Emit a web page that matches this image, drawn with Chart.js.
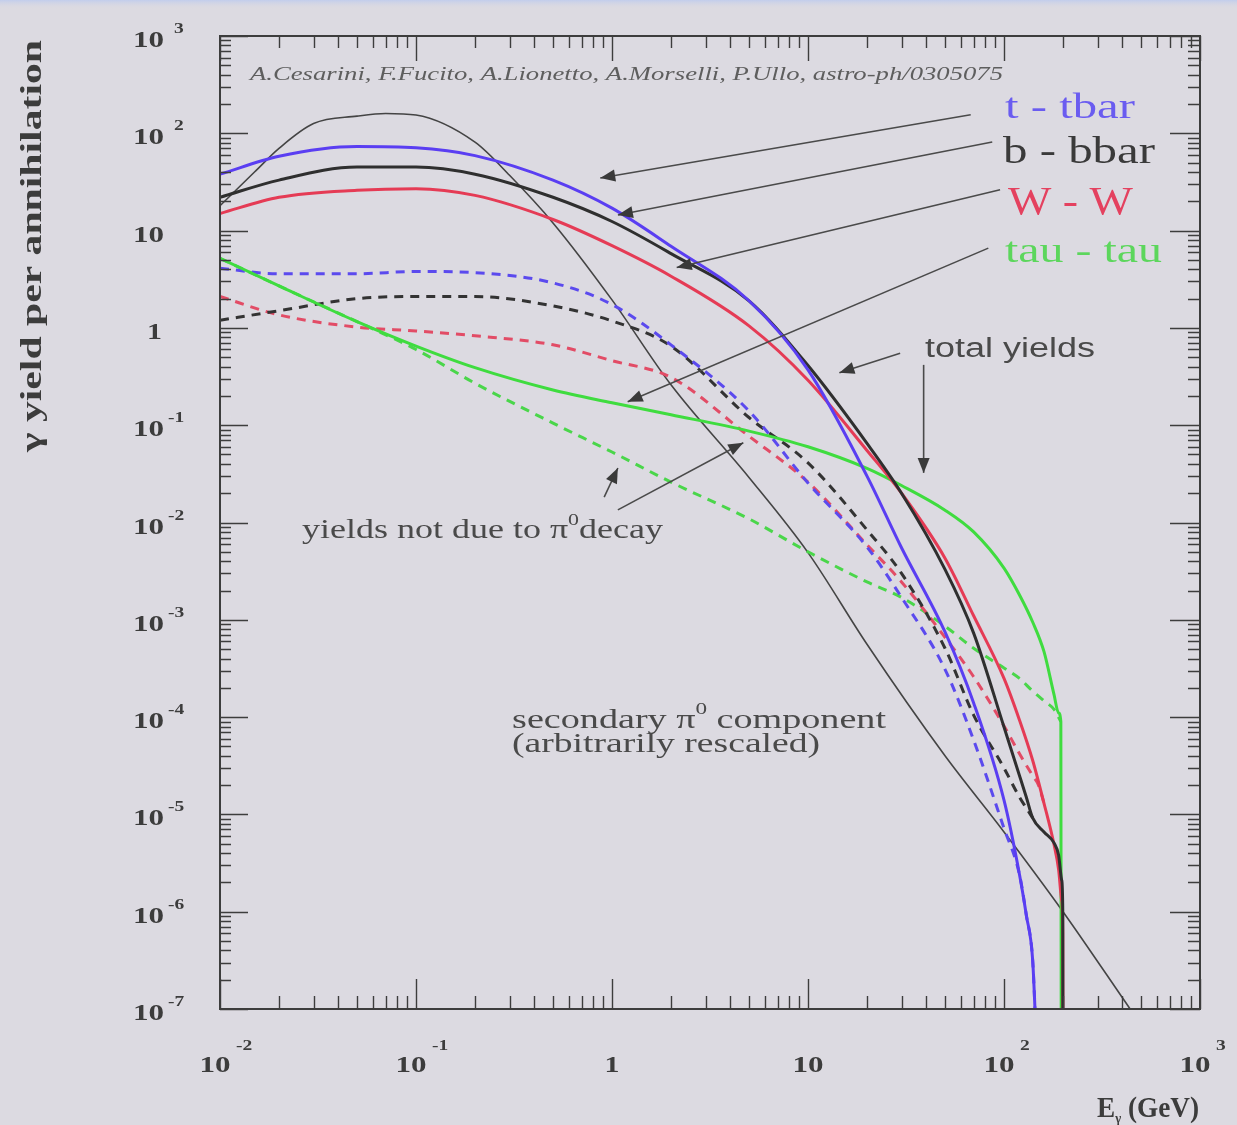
<!DOCTYPE html>
<html>
<head>
<meta charset="utf-8">
<title>Gamma yields per annihilation</title>
<script src="https://cdn.jsdelivr.net/npm/chart.js@4.4.1/dist/chart.umd.min.js"></script>
<style>
  html, body { margin: 0; padding: 0; background: #dcdae1; }
  #wrap { width: 1237px; height: 1125px; }
</style>
</head>
<body>
<div id="wrap"><canvas id="chart" width="1237" height="1125"></canvas></div>
<script>
// photon energy (GeV) vs gamma yield per annihilation, one pair of arrays per curve
const ttTotalE = [0.01, 0.02, 0.05, 0.1, 0.2, 0.5, 1, 2, 5, 10, 20, 30, 50, 70, 100, 120, 130, 140, 146];
const ttTotalY = [38, 58, 73, 71, 59, 33, 17, 6.9, 1.9, 0.37, 0.03, 0.0055, 7.5e-4, 1.4e-4, 1.4e-5, 2.4e-6, 9.2e-7, 3.2e-7, 5e-8];

const bbTotalE = [0.01, 0.02, 0.05, 0.1, 0.2, 0.5, 1, 2, 5, 10, 20, 30, 50, 70, 100, 120, 130, 140, 160, 180, 190, 197, 199.5, 200];
const bbTotalY = [22, 33, 45, 45, 38, 22, 12.4, 5.8, 1.9, 0.41, 0.065, 0.020, 3.3e-3, 7.3e-4, 7.9e-5, 2.5e-5, 1.5e-5, 9.2e-6, 6.6e-6, 5.1e-6, 3.8e-6, 2.1e-6, 1e-6, 1e-8];

const wwTotalE = [0.01, 0.02, 0.05, 0.1, 0.2, 0.5, 1, 2, 5, 10, 20, 30, 50, 70, 100, 120, 140, 160, 180, 190, 197, 199.5, 200];
const wwTotalY = [15, 22, 26, 27, 23, 13, 7.0, 3.4, 1.05, 0.29, 0.055, 0.020, 4.3e-3, 1.1e-3, 2.5e-4, 9.3e-5, 3.6e-5, 1.3e-5, 4.9e-6, 2.7e-6, 1.3e-6, 6e-7, 1e-8];

const tauTotalE = [0.01, 0.02, 0.05, 0.1, 0.2, 0.5, 1, 2, 5, 10, 20, 30, 50, 70, 100, 120, 140, 160, 180, 190, 195, 196];
const tauTotalY = [5.2, 2.7, 1.16, 0.65, 0.39, 0.23, 0.17, 0.128, 0.087, 0.060, 0.036, 0.024, 0.0134, 0.008, 0.0034, 1.8e-3, 9.5e-4, 4.7e-4, 1.7e-4, 1.1e-4, 9e-5, 1e-8];

// yields not due to pi0 decay
const ttNonPi0E = [0.01, 0.02, 0.05, 0.1, 0.2, 0.5, 1, 2, 5, 10, 20, 30, 50, 70, 100, 120, 130, 140, 146];
const ttNonPi0Y = [4.1, 3.6, 3.6, 3.8, 3.7, 2.9, 1.74, 0.67, 0.14, 0.0255, 5.6e-3, 1.7e-3, 3.1e-4, 5.8e-5, 7.2e-6, 2.4e-6, 9.2e-7, 3.2e-7, 5e-8];

const bbNonPi0E = [0.01, 0.02, 0.05, 0.1, 0.2, 0.5, 1, 2, 5, 10, 20, 30, 50, 70, 100, 120, 130, 140];
const bbNonPi0Y = [1.2, 1.5, 2.0, 2.1, 2.1, 1.68, 1.18, 0.65, 0.12, 0.041, 8.4e-3, 3.0e-3, 5.1e-4, 1.05e-4, 3.0e-5, 1.5e-5, 1.16e-5, 9.2e-6];

const wwNonPi0E = [0.01, 0.02, 0.05, 0.1, 0.2, 0.5, 1, 2, 5, 10, 20, 30, 50, 70, 100, 120, 140, 150, 160];
const wwNonPi0Y = [2.1, 1.36, 1.02, 0.93, 0.83, 0.67, 0.46, 0.31, 0.077, 0.026, 5.9e-3, 2.45e-3, 6.6e-4, 2.6e-4, 8.1e-5, 4.2e-5, 2.5e-5, 2.0e-5, 1.3e-5];

const tauNonPi0E = [0.01, 0.02, 0.05, 0.1, 0.2, 0.5, 1, 2, 5, 10, 20, 30, 50, 70, 100, 120, 140, 160, 180, 195];
const tauNonPi0Y = [5.2, 2.7, 1.16, 0.6, 0.27, 0.105, 0.053, 0.026, 0.0109, 5.0e-3, 2.45e-3, 1.7e-3, 8.6e-4, 5.1e-4, 3.2e-4, 2.5e-4, 1.85e-4, 1.47e-4, 1.2e-4, 9e-5];

// secondary pi0 component (arbitrarily rescaled)
const pi0E = [0.01, 0.015, 0.02, 0.03, 0.05, 0.07, 0.1, 0.2, 0.3, 0.5, 1, 2, 5, 10, 20, 50, 100, 200, 440];
const pi0Y = [18, 40, 70, 126, 150, 160, 154, 81, 37, 12, 1.94, 0.26, 0.029, 4.9e-3, 5.6e-4, 4.0e-5, 6.6e-6, 1.0e-6, 1.0e-7];

// decade exponents for the axis labels
const xDecades = [-2, -1, 0, 1, 2, 3];
const yDecades = [3, 2, 1, 0, -1, -2, -3, -4, -5, -6, -7];

const channelLabels = ['t - tbar', 'b - bbar', 'W - W', 'tau - tau'];
const citation = 'A.Cesarini, F.Fucito, A.Lionetto, A.Morselli, P.Ullo, astro-ph/0305075';

function pts(es, ys) {
  return es.map((e, i) => ({ x: e, y: ys[i] }));
}

const BLUE = '#5a3ef2', BLACK = '#2f2f2f', RED = '#e53b55', GREEN = '#3fdc3f';

function solid(es, ys, color) {
  return { data: pts(es, ys), borderColor: color, borderWidth: 3 };
}
function dashed(es, ys, color) {
  return { data: pts(es, ys), borderColor: color, borderWidth: 3, borderDash: [9, 7] };
}

const datasets = [
  solid(ttTotalE, ttTotalY, BLUE),
  solid(bbTotalE, bbTotalY, BLACK),
  solid(wwTotalE, wwTotalY, RED),
  solid(tauTotalE, tauTotalY, GREEN),
  dashed(ttNonPi0E, ttNonPi0Y, '#5b4aee'),
  dashed(bbNonPi0E, bbNonPi0Y, '#333333'),
  dashed(wwNonPi0E, wwNonPi0Y, '#e24c66'),
  dashed(tauNonPi0E, tauNonPi0Y, '#4ad64a'),
  { data: pts(pi0E, pi0Y), borderColor: '#444444', borderWidth: 1.6 }
];

// annotation geometry, in log10(E), log10(yield)
const arrowPaths = [
  [[1.83, 2.19], [-0.06, 1.54]],
  [[1.94, 1.91], [0.03, 1.16]],
  [[1.98, 1.42], [0.33, 0.62]],
  [[1.92, 0.82], [0.08, -0.76]],
  [[1.47, -0.26], [1.16, -0.46]],
  [[1.59, -0.38], [1.59, -1.49]],
  [[-0.04, -1.74], [0.03, -1.44]],
  [[0.03, -1.87], [0.67, -1.18]]
];

function stretched(c, str, x, y, sx, align) {
  const w = c.measureText(str).width * sx;
  let x0 = x;
  if (align === 'center') x0 = x - w / 2;
  else if (align === 'right') x0 = x - w;
  c.save();
  c.translate(x0, y);
  c.scale(sx, 1);
  c.textAlign = 'left';
  c.fillText(str, 0, 0);
  c.restore();
  return w;
}

// draws text pieces (with super/subscripts) squeezed or widened to a given width
function richFit(c, parts, x, y, width) {
  let total = 0;
  parts.forEach(p => { c.font = p.font; p.w = c.measureText(p.t).width; total += p.w; });
  const sx = width / total;
  c.save();
  c.translate(x, y);
  c.scale(sx, 1);
  c.textAlign = 'left';
  let cx = 0;
  parts.forEach(p => { c.font = p.font; c.fillText(p.t, cx, -(p.dy || 0)); cx += p.w; });
  c.restore();
}

function arrow(c, x1, y1, x2, y2) {
  c.beginPath();
  c.moveTo(x1, y1);
  c.lineTo(x2, y2);
  c.stroke();
  const a = Math.atan2(y2 - y1, x2 - x1), L = 15, W = 6;
  c.beginPath();
  c.moveTo(x2, y2);
  c.lineTo(x2 - L * Math.cos(a) + W * Math.sin(a), y2 - L * Math.sin(a) - W * Math.cos(a));
  c.lineTo(x2 - L * Math.cos(a) - W * Math.sin(a), y2 - L * Math.sin(a) + W * Math.cos(a));
  c.closePath();
  c.fill();
}

const SERIF = '"Liberation Serif", Times, "Times New Roman", serif';
const SANS = '"Liberation Sans", Arial, sans-serif';

const decor = {
  id: 'decor',
  beforeDraw(chart) {
    const c = chart.ctx;
    c.save();
    c.fillStyle = '#dcdae1';
    c.fillRect(0, 0, chart.width, chart.height);
    const g = c.createLinearGradient(0, 0, 0, 9);
    g.addColorStop(0, '#c2cdec');
    g.addColorStop(1, 'rgba(220,218,225,0)');
    c.fillStyle = g;
    c.fillRect(0, 0, chart.width, 9);
    c.restore();
  },
  afterDraw(chart) {
    const c = chart.ctx;
    const xs = chart.scales.x, ys = chart.scales.y;
    const { left, right, top, bottom } = chart.chartArea;
    const at = (lx, ly) => [xs.getPixelForValue(Math.pow(10, lx)), ys.getPixelForValue(Math.pow(10, ly))];
    c.save();

    // frame with inward ticks on all four sides
    c.strokeStyle = '#3d3d3d';
    c.lineWidth = 2;
    c.strokeRect(left, top, right - left, bottom - top);
    c.lineWidth = 1.4;
    c.beginPath();
    for (let d = -2; d <= 3; d++) {
      for (let k = 1; k < 10; k++) {
        if (d === 3 && k > 1) break;
        const px = Math.round(xs.getPixelForValue(k * Math.pow(10, d))) + 0.5;
        const major = k === 1;
        c.moveTo(px, bottom); c.lineTo(px, bottom - (major ? 30 : 13));
        c.moveTo(px, top); c.lineTo(px, top + (major ? 25 : 12));
      }
    }
    for (let d = -7; d <= 3; d++) {
      for (let k = 1; k < 10; k++) {
        if (d === 3 && k > 1) break;
        const py = Math.round(ys.getPixelForValue(k * Math.pow(10, d))) + 0.5;
        const major = k === 1;
        c.moveTo(left, py); c.lineTo(left + (major ? 28 : 11), py);
        c.moveTo(right, py); c.lineTo(right - (major ? 30 : 12), py);
      }
    }
    c.stroke();

    // decade labels
    c.fillStyle = '#3c3c3c';
    const baseFont = 'bold 23px ' + SERIF, expFont = 'bold 15px ' + SERIF;
    xDecades.forEach(e => {
      const px = xs.getPixelForValue(Math.pow(10, e));
      c.font = baseFont;
      if (e === 0) stretched(c, '1', px, 1072, 1.3, 'center');
      else if (e === 1) stretched(c, '10', px, 1072, 1.35, 'center');
      else {
        stretched(c, '10', px - 5, 1072, 1.35, 'center');
        c.font = expFont;
        stretched(c, String(e), px + 16, 1050, 1.3, 'left');
      }
    });
    yDecades.forEach(e => {
      const py = ys.getPixelForValue(Math.pow(10, e));
      c.font = baseFont;
      if (e === 0) stretched(c, '1', 162, py + 11, 1.3, 'right');
      else if (e === 1) stretched(c, '10', 164, py + 11, 1.35, 'right');
      else {
        stretched(c, '10', 164, py + 11, 1.35, 'right');
        c.font = expFont;
        stretched(c, String(e), e > 0 ? 174 : 168, py - 3, 1.3, 'left');
      }
    });

    // axis titles
    c.save();
    c.translate(41, 452);
    c.rotate(-Math.PI / 2);
    richFit(c, [{ t: '\u03b3 yield per annihilation', font: 'bold 29px ' + SERIF }], 0, 0, 412);
    c.restore();
    richFit(c, [
      { t: 'E', font: 'bold 30px ' + SERIF },
      { t: '\u03b3', font: 'bold 14px ' + SERIF, dy: -6 },
      { t: ' (GeV)', font: 'bold 30px ' + SERIF }
    ], 1097, 1117, 102);

    // citation line
    c.fillStyle = '#5e5e5e';
    let p = at(-1.847, 2.548);
    richFit(c, [{ t: citation, font: 'italic 19px ' + SERIF }], p[0], p[1], 753);

    // arrows
    c.strokeStyle = '#4a4a4a';
    c.fillStyle = '#3a3a3a';
    c.lineWidth = 1.6;
    arrowPaths.forEach(([a, b]) => {
      const p1 = at(a[0], a[1]), p2 = at(b[0], b[1]);
      arrow(c, p1[0], p1[1], p2[0], p2[1]);
    });

    // channel names
    const chanStyle = [
      { color: '#6a5cf0', pos: [2.005, 2.157], w: 130, size: 36 },
      { color: '#3a3a3a', pos: [1.995, 1.695], w: 152, size: 38 },
      { color: '#e4415f', pos: [2.020, 1.171], w: 125, size: 40 },
      { color: '#5cd65c', pos: [2.005, 0.677], w: 157, size: 36 }
    ];
    channelLabels.forEach((t, i) => {
      const s = chanStyle[i];
      const q = at(s.pos[0], s.pos[1]);
      c.fillStyle = s.color;
      richFit(c, [{ t, font: s.size + 'px ' + SERIF }], q[0], q[1], s.w);
    });

    // notes
    c.fillStyle = '#4a4a4a';
    p = at(1.597, -0.299);
    richFit(c, [{ t: 'total yields', font: '27px ' + SANS }], p[0], p[1], 170);
    p = at(-1.582, -2.159);
    richFit(c, [
      { t: 'yields not due to \u03c0', font: '28px ' + SERIF },
      { t: '0', font: '17px ' + SERIF, dy: 13 },
      { t: 'decay', font: '28px ' + SERIF }
    ], p[0], p[1], 361);
    p = at(-0.510, -4.112);
    richFit(c, [
      { t: 'secondary \u03c0', font: '28px ' + SERIF },
      { t: '0', font: '17px ' + SERIF, dy: 14 },
      { t: ' component', font: '28px ' + SERIF }
    ], p[0], p[1], 374);
    p = at(-0.510, -4.359);
    richFit(c, [{ t: '(arbitrarily rescaled)', font: '28px ' + SERIF }], p[0], p[1], 308);

    c.restore();
  }
};

new Chart(document.getElementById('chart'), {
  type: 'line',
  data: { datasets },
  options: {
    responsive: false,
    animation: false,
    devicePixelRatio: 1,
    layout: { padding: { left: 220, right: 37, top: 36, bottom: 116 } },
    plugins: { legend: { display: false }, tooltip: { enabled: false } },
    elements: {
      point: { radius: 0 },
      line: { cubicInterpolationMode: 'monotone', borderJoinStyle: 'round', fill: false }
    },
    scales: {
      x: { type: 'logarithmic', min: 0.01, max: 1000, display: false },
      y: { type: 'logarithmic', min: 1e-7, max: 1000, display: false }
    }
  },
  plugins: [decor]
});
</script>
</body>
</html>
